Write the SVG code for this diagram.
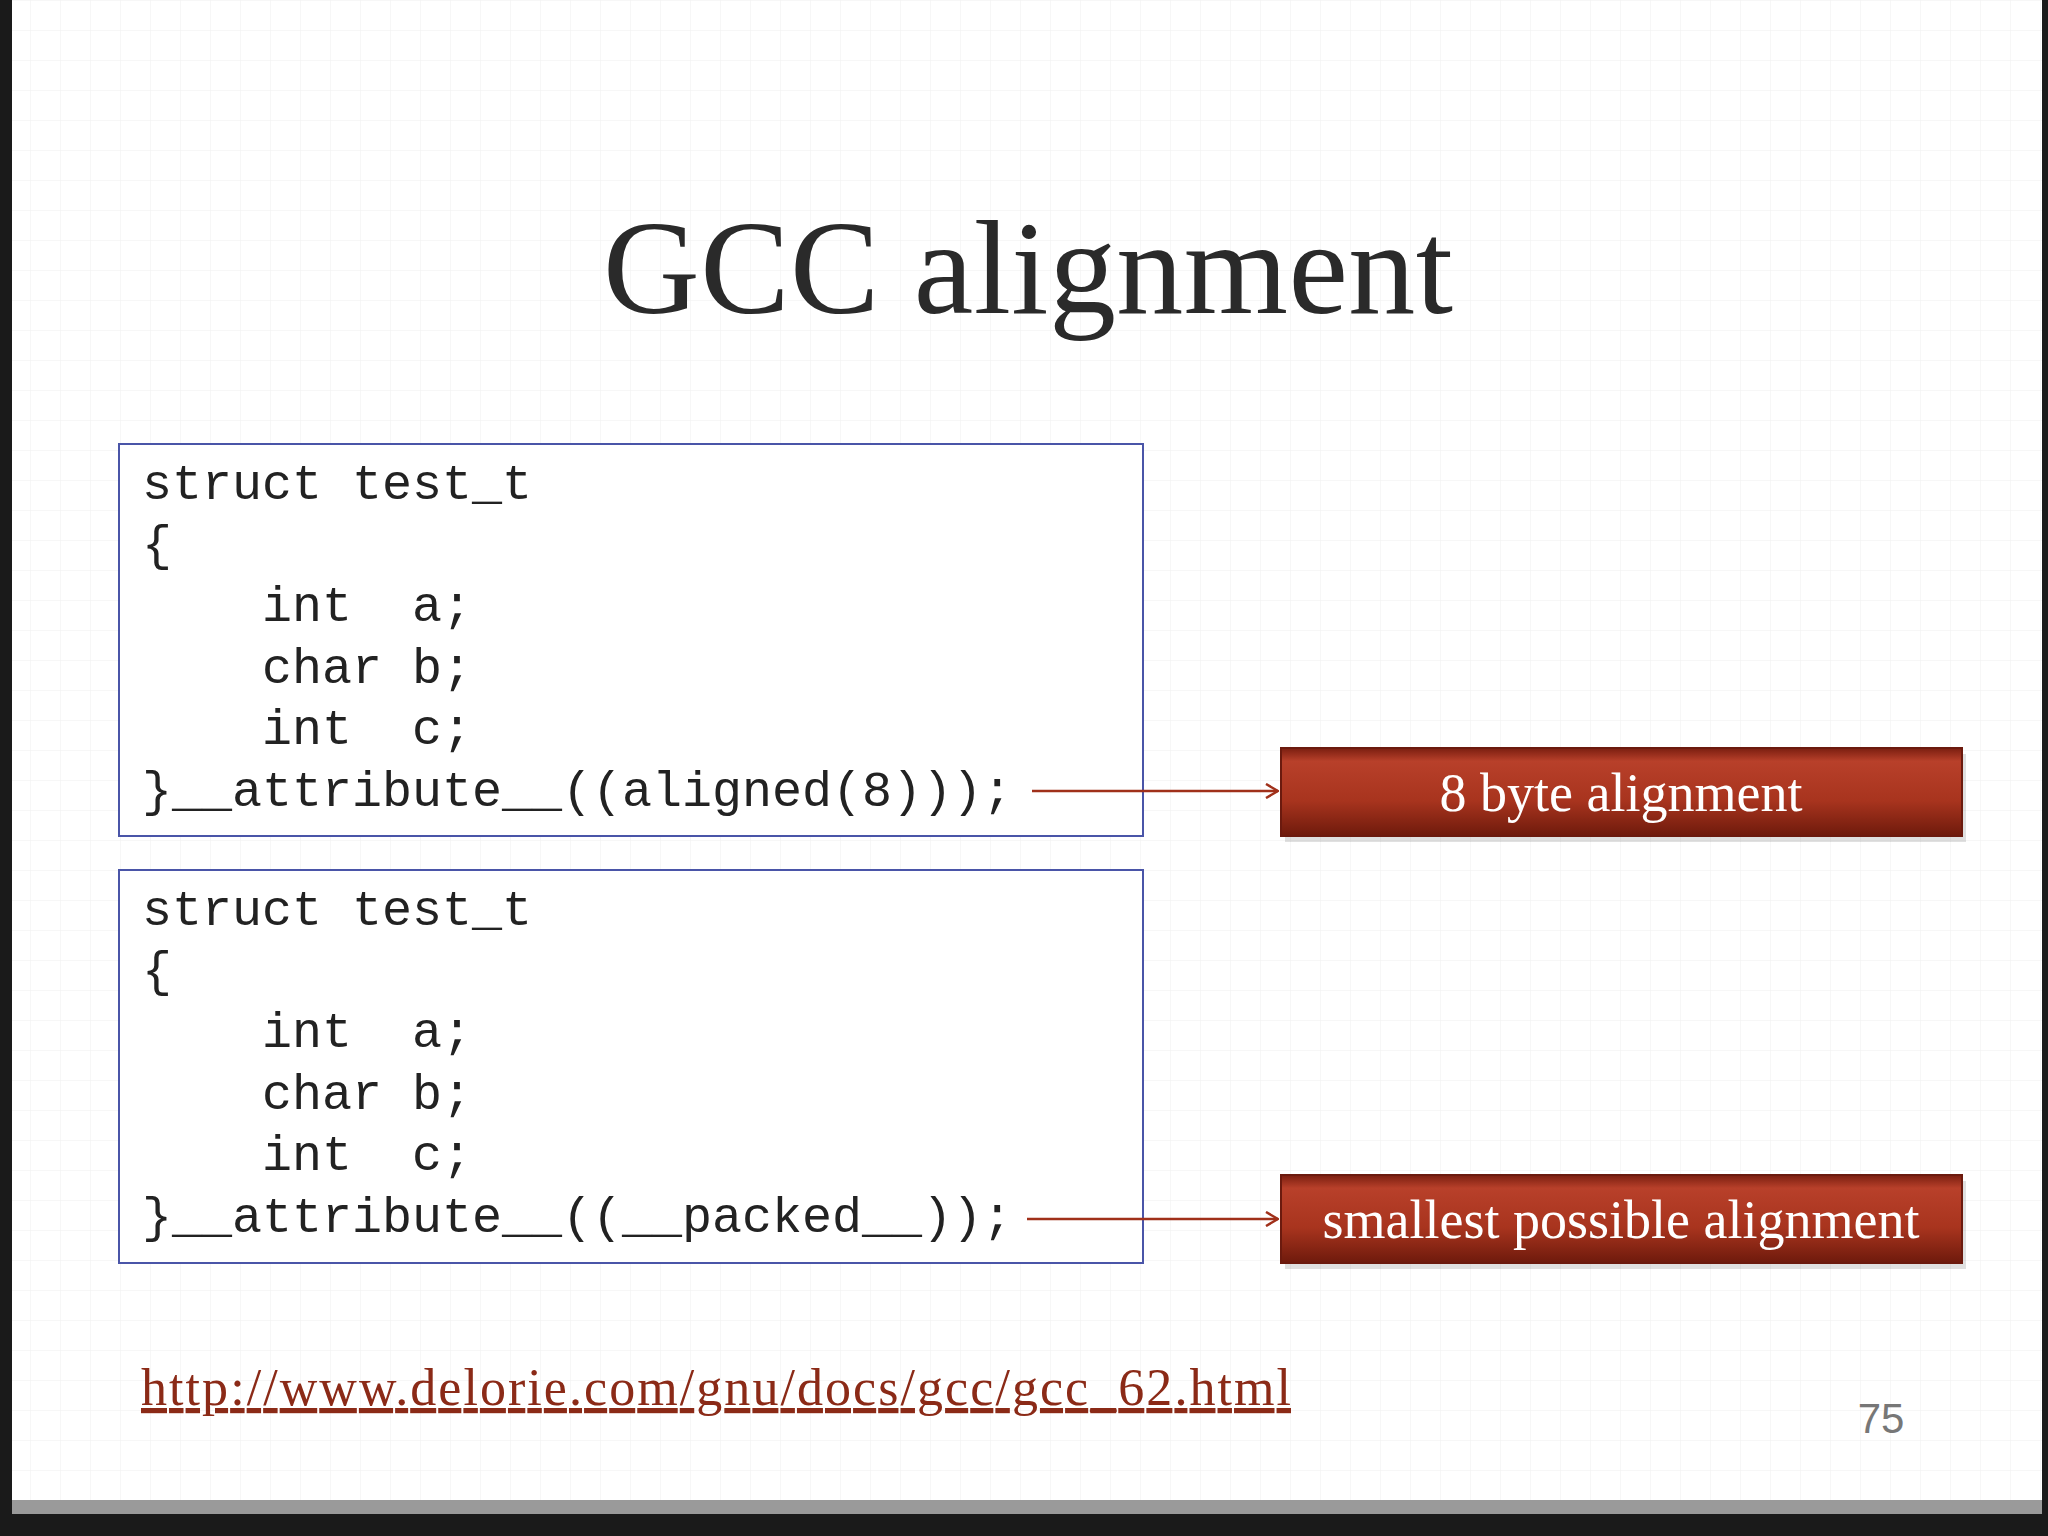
<svg xmlns="http://www.w3.org/2000/svg" width="2048" height="1536" viewBox="0 0 2048 1536">
<defs>
<style>
.code{font-family:"Liberation Mono",monospace;font-size:50px;fill:#222}
.lbl{font-family:"Liberation Serif",serif;font-size:54px;fill:#fff;text-anchor:middle}
.box{fill:#fff;stroke:#4a55a8;stroke-width:2}
.rb{fill:url(#rg);stroke:#6b1a0e;stroke-width:2}
.con{stroke:#a0301a;stroke-width:2.5;fill:none}
</style>
<linearGradient id="rg" x1="0" y1="0" x2="0" y2="1">
<stop offset="0" stop-color="#7a1e10"/><stop offset="0.15" stop-color="#b8402a"/><stop offset="0.6" stop-color="#a8341e"/><stop offset="1" stop-color="#6e1a0c"/>
</linearGradient>
<marker id="ah" markerWidth="14" markerHeight="16" refX="13" refY="8" orient="auto" markerUnits="userSpaceOnUse">
<path d="M1,1 L13,8 L1,15" fill="none" stroke="#a0301a" stroke-width="2.5"/>
</marker>
<pattern id="grid" width="30" height="30" patternUnits="userSpaceOnUse">
<path d="M30,0 L0,0 0,30" fill="none" stroke="#f0f0f0" stroke-width="1"/>
</pattern>
</defs>
<rect width="2048" height="1536" fill="#1a1a1a"/>
<rect x="12" y="0" width="2030" height="1500" fill="#fff"/>
<rect x="12" y="0" width="2030" height="1500" fill="url(#grid)"/>
<rect x="12" y="1500" width="2030" height="14" fill="#9a9a9a"/>
<text x="1028" y="313" font-family="Liberation Serif,serif" font-size="134" fill="#2a2a2a" text-anchor="middle" textLength="850">GCC alignment</text>
<g id="box1">
<rect class="box" x="119" y="444" width="1024" height="392"/>
<text class="code" x="142" y="499" xml:space="preserve">struct test_t</text>
<text class="code" x="142" y="560">{</text>
<text class="code" x="142" y="621" xml:space="preserve">    int  a;</text>
<text class="code" x="142" y="683" xml:space="preserve">    char b;</text>
<text class="code" x="142" y="744" xml:space="preserve">    int  c;</text>
<text class="code" x="142" y="806">}__attribute__((aligned(8)));</text>
</g>
<g id="box2">
<rect class="box" x="119" y="870" width="1024" height="393"/>
<text class="code" x="142" y="925" xml:space="preserve">struct test_t</text>
<text class="code" x="142" y="986">{</text>
<text class="code" x="142" y="1047" xml:space="preserve">    int  a;</text>
<text class="code" x="142" y="1109" xml:space="preserve">    char b;</text>
<text class="code" x="142" y="1170" xml:space="preserve">    int  c;</text>
<text class="code" x="142" y="1232">}__attribute__((__packed__));</text>
</g>
<g id="label1">
<rect x="1285" y="754" width="681" height="88" fill="#000" opacity="0.12"/>
<rect class="rb" x="1281" y="748" width="681" height="88"/>
<text class="lbl" x="1621" y="811">8 byte alignment</text>
</g>
<g id="label2">
<rect x="1285" y="1181" width="681" height="88" fill="#000" opacity="0.12"/>
<rect class="rb" x="1281" y="1175" width="681" height="88"/>
<text class="lbl" x="1621" y="1238">smallest possible alignment</text>
</g>
<g id="connectors">
<line class="con" x1="1032" y1="791" x2="1278" y2="791" marker-end="url(#ah)"/>
<line class="con" x1="1027" y1="1219" x2="1278" y2="1219" marker-end="url(#ah)"/>
</g>
<text x="141" y="1405" font-family="Liberation Serif,serif" font-size="52" fill="#8b2a17" text-decoration="underline" textLength="1150">http://www.delorie.com/gnu/docs/gcc/gcc_62.html</text>
<text x="1881" y="1433" font-family="Liberation Sans,sans-serif" font-size="42" fill="#777" text-anchor="middle">75</text>
</svg>
